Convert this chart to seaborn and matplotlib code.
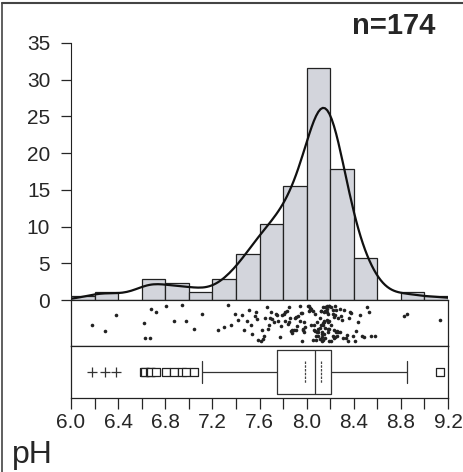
import numpy as np
import pandas as pd
import matplotlib
matplotlib.use("Agg")
import matplotlib.pyplot as plt
from matplotlib.ticker import MultipleLocator
import seaborn as sns

ph = [
    6.18, 6.29, 6.38,
    6.62, 6.63, 6.67, 6.68, 6.72,
    6.81, 6.87, 6.94, 6.98,
    7.04, 7.11,
    7.25, 7.30, 7.33, 7.36, 7.39,
    7.42, 7.45, 7.47, 7.49, 7.51, 7.53, 7.54, 7.56, 7.57, 7.58, 7.59,
    7.61, 7.62, 7.63, 7.64, 7.65, 7.66, 7.67, 7.68, 7.69, 7.70, 7.71, 7.72,
    7.74, 7.75, 7.76, 7.77, 7.78, 7.79,
    7.81, 7.82, 7.82, 7.83, 7.84, 7.85, 7.85, 7.86, 7.87, 7.88, 7.88, 7.89,
    7.90, 7.91, 7.91, 7.92, 7.93, 7.94, 7.94, 7.95, 7.96, 7.96, 7.97, 7.97,
    7.98, 7.98, 7.99,
    8.01, 8.02, 8.02, 8.03, 8.03, 8.04, 8.04, 8.05, 8.05, 8.06, 8.06, 8.07,
    8.07, 8.08, 8.08, 8.09, 8.09, 8.10, 8.10, 8.10, 8.11, 8.11, 8.11, 8.12,
    8.12, 8.12, 8.13, 8.13, 8.13, 8.13, 8.14, 8.14, 8.14, 8.14, 8.15, 8.15,
    8.15, 8.15, 8.16, 8.16, 8.16, 8.16, 8.17, 8.17, 8.17, 8.17, 8.18, 8.18,
    8.18, 8.18, 8.19, 8.19, 8.19, 8.19, 8.19,
    8.21, 8.21, 8.21, 8.22, 8.22, 8.22, 8.23, 8.23, 8.23, 8.24, 8.24, 8.24,
    8.25, 8.25, 8.26, 8.26, 8.27, 8.27, 8.28, 8.28, 8.29, 8.30, 8.31, 8.32,
    8.33, 8.34, 8.35, 8.36, 8.37, 8.38, 8.39,
    8.41, 8.42, 8.44, 8.45, 8.47, 8.49, 8.51, 8.53, 8.55, 8.58,
    8.83, 8.85,
    9.13,
]
bin_edges = [6.0, 6.2, 6.4, 6.6, 6.8, 7.0, 7.2, 7.4, 7.6, 7.8, 8.0, 8.2, 8.4, 8.6, 8.8, 9.0, 9.2]
x_ticks = [6.0, 6.4, 6.8, 7.2, 7.6, 8.0, 8.4, 8.8, 9.2]
y_ticks = [0, 5, 10, 15, 20, 25, 30, 35]
median_ci = (7.99, 8.12)

df = pd.DataFrame({"pH": ph})

sns.set_style("white")
plt.rcParams["font.family"] = ["Liberation Sans", "DejaVu Sans"]
np.random.seed(3)

fig = plt.figure(figsize=(4.63, 4.72), dpi=100)
left, width = 0.1534, 0.8142
ax_hist = fig.add_axes([left, 0.3644, width, 0.5445])
ax_strip = fig.add_axes([left, 0.2669, width, 0.0975], sharex=ax_hist)
ax_box = fig.add_axes([left, 0.1568, width, 0.1101], sharex=ax_hist)

# histogram + density curve
sns.histplot(data=df, x="pH", bins=bin_edges, stat="percent", kde=True,
             color="#d3d5dc", edgecolor="#222222", linewidth=0.9, alpha=1,
             kde_kws={"cut": 3, "bw_adjust": 0.8}, line_kws={"linewidth": 1.6},
             ax=ax_hist)
ax_hist.lines[0].set_color("#111111")
ax_hist.set_xlim(6.0, 9.2)
ax_hist.set_ylim(0, 35)
ax_hist.set_yticks(y_ticks)
ax_hist.set_xlabel("")
ax_hist.set_ylabel("")
for s in ["top", "right", "bottom"]:
    ax_hist.spines[s].set_visible(False)
ax_hist.spines["left"].set_color("#222222")
ax_hist.tick_params(axis="y", direction="out", length=7, width=0.9, pad=8,
                    labelsize=15, left=True)
ax_hist.tick_params(axis="x", bottom=False, labelbottom=False)

# jittered dot strip
sns.stripplot(data=df, x="pH", jitter=0.42, size=2.6, color="#222222",
              marker="o", linewidth=0, ax=ax_strip)
ax_strip.set_ylim(0.5, -0.5)
ax_strip.set_xlabel("")
ax_strip.set_yticks([])
ax_strip.tick_params(axis="x", bottom=False, labelbottom=False)

# outlier box plot
vals = np.array(ph)
q1, med, q3 = np.percentile(vals, [25, 50, 75])
iqr = q3 - q1
near = vals[((vals < q1 - 1.5 * iqr) & (vals >= q1 - 3 * iqr)) | (vals > q3 + 1.5 * iqr)]
far = vals[vals < q1 - 3 * iqr]
sns.boxplot(data=df, x="pH", whis=1.5, width=0.84, fill=False, color="#333333",
            linewidth=0.9, showfliers=False, showcaps=True, ax=ax_box)
sns.scatterplot(x=near, y=[0] * len(near), marker="s", s=28, facecolor="white",
                edgecolor="#222222", linewidth=0.9, ax=ax_box)
sns.scatterplot(x=far, y=[0] * len(far), marker="+", s=60, color="#333333",
                linewidth=0.9, ax=ax_box)
ax_box.vlines(median_ci, -0.22, 0.22, colors="#444444", linestyles=(0, (2, 1)),
              linewidth=0.9)
ax_box.set_ylim(0.5, -0.5)
ax_box.set_yticks([])
ax_box.set_xlabel("")
ax_box.set_xticks(x_ticks)
ax_box.set_xticklabels([f"{t:.1f}" for t in x_ticks])
ax_box.xaxis.set_minor_locator(MultipleLocator(0.2))
ax_box.tick_params(axis="x", which="both", direction="out", length=8, width=0.9,
                   bottom=True, labelsize=15, pad=3)

for ax in (ax_strip, ax_box):
    for s in ax.spines.values():
        s.set_color("#222222")
        s.set_linewidth(0.9)

ax_box.set_xlim(6.0, 9.2)

fig.text(0.94, 0.945, "n=174", ha="right", va="center", fontsize=21,
         fontweight="bold")
fig.text(0.025, 0.035, "pH", ha="left", va="center", fontsize=23)

# frame around the figure (left and top)
fig.add_artist(plt.Line2D([0.005, 0.005], [0, 0.993], color="#444444", lw=1.2))
fig.add_artist(plt.Line2D([0.005, 1], [0.993, 0.993], color="#444444", lw=1.5))

fig.savefig("out.png", dpi=100)
